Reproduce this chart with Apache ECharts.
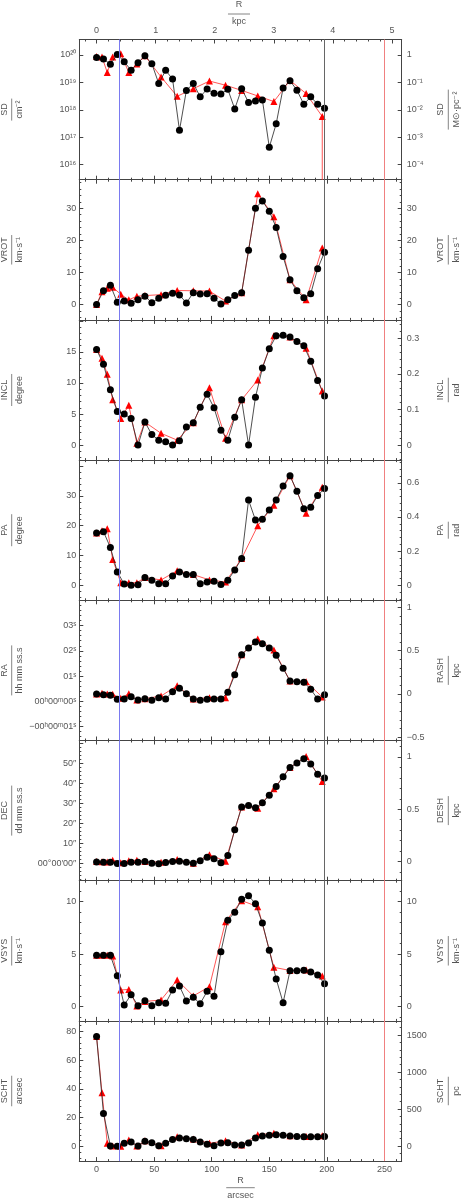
<!DOCTYPE html>
<html><head><meta charset="utf-8">
<script src="https://cdn.jsdelivr.net/npm/echarts@6/dist/echarts.min.js"></script>
<style>html,body{margin:0;padding:0;background:#fff}#c{width:463px;height:1199px}</style>
</head><body><div id="c"></div>
<script>
// ---------------- data ----------------
const R_BLACK = [0,6,12,18,24,30,36,42,48,54,60,66,72,78,84,90,96,102,108,114,120,126,132,138,144,150,156,162,168,174,180,186,192,198];
const R_RED = [0,4.7,9.3,14,21,28,35,42,56,70,84,98,112,126,140,154,168,182,196];

const SD_BLACK = [8.1e19,7.2e19,4.6e19,1.05e20,5.7e19,2.75e19,5.2e19,9.3e19,4.8e19,9.1e18,2.75e19,1.32e19,1.78e17,5.1e18,9.1e18,3.0e18,5.7e18,4.0e18,3.8e18,5.6e18,1.07e18,5.9e18,1.86e18,2.1e18,2.3e18,4.3e16,3.1e17,6.2e18,1.15e19,5.2e18,1.58e18,3.0e18,1.58e18,1.15e18];
const SD_RED = [8.9e19,8.5e19,2.3e19,8.5e19,1.12e20,2.3e19,4.7e19,9.3e19,1.58e19,3.1e18,5.9e18,1.12e19,7.9e18,5.1e18,3.2e18,2.0e18,1.18e19,3.9e18,5.7e17];
const SD_RED_DROP = 1e10; // last red ring falls to ~zero

const VROT_BLACK = [0,4.3,6.0,0.7,1.1,0.4,1.5,2.6,0.6,2.0,2.9,3.5,3.0,0.5,3.7,3.3,3.4,2.0,0.2,1.5,2.8,3.7,16.9,30.0,32.3,29.1,24.0,15.0,7.7,4.3,2.1,3.4,11.2,16.3];
const VROT_RED = [0,4.0,5.1,5.4,3.2,1.5,2.6,2.8,3.1,4.4,4.3,4.2,1.1,3.7,34.5,27.4,7.7,1.5,17.6];

const INCL_BLACK = [15.4,13.0,8.9,5.4,5.0,4.3,0,3.7,1.7,0.8,0.55,0,0.7,2.9,3.6,6.1,8.2,6.0,2.4,0.8,4.5,7.3,0,7.7,12.4,15.5,17.6,17.7,17.4,16.7,16.0,13.5,10.4,7.9];
const INCL_RED = [15.4,14.0,11.4,7.3,4.3,6.4,0.3,3.7,1.9,0.8,3.6,9.25,1.1,7.3,10.5,17.6,17.4,15.6,8.7];

const PA_BLACK = [17.55,18.0,12.7,4.5,0.4,0,0.2,2.6,1.7,0.55,0.55,3.1,4.5,3.6,3.6,0.55,1.1,1.4,0.3,1.7,5.1,9.0,28.6,21.9,22.2,25.3,28.6,33.3,36.8,31.6,25.7,26.2,30.1,32.5];
const PA_RED = [17.55,18.3,19.0,8.7,0.9,0.9,0.9,2.6,1.8,4.9,3.6,1.8,1.1,9.0,20.0,26.9,36.8,24.15,32.9];

const RASH_BLACK = [0,-0.008,-0.015,-0.06,-0.058,-0.031,-0.069,-0.054,-0.073,-0.042,-0.058,0.027,0.065,0.004,-0.058,-0.073,-0.06,-0.058,-0.058,0.019,0.223,0.454,0.531,0.60,0.58,0.531,0.446,0.296,0.15,0.142,0.135,0.054,-0.058,-0.008];
const RASH_RED = [0,0.008,0,-0.004,-0.05,0.004,-0.069,-0.054,-0.023,0.096,-0.058,-0.042,-0.042,0.454,0.634,0.507,0.15,0.142,-0.035];

const DESH_BLACK = [-0.004,-0.007,-0.007,-0.02,-0.02,-0.007,-0.007,0,-0.016,-0.023,-0.01,0,0.003,-0.007,-0.016,0.006,0.041,0.025,-0.013,0.057,0.304,0.522,0.535,0.513,0.561,0.634,0.718,0.81,0.90,0.942,0.984,0.932,0.836,0.80];
const DESH_RED = [0,-0.002,-0.005,0.0125,-0.013,0.006,0.0125,0,-0.007,0.019,-0.016,0.064,0.003,0.522,0.509,0.695,0.90,1.006,0.766];

const VSYS_BLACK = [4.9,4.9,4.9,2.95,0.16,1.15,0.1,0.57,0.1,0.38,0.32,1.59,1.97,0.54,0.89,0.29,1.46,0.99,5.24,8.23,8.99,10.23,10.57,9.81,7.97,5.37,2.64,0.38,3.43,3.43,3.46,3.30,3.02,2.19];
const VSYS_RED = [4.9,4.9,4.9,4.84,1.59,1.65,0.07,0.5,0.64,2.54,1.02,1.91,8.1,10.1,9.53,3.75,3.45,3.49,2.92];

const SCHT_BLACK = [76.3,22.9,0.2,0,2.1,3.0,0.2,3.5,2.5,0.4,2.1,4.8,5.8,5.3,4.8,3.0,1.4,0.4,2.3,2.5,0.9,0.9,2.3,5.8,7.2,7.6,8.1,7.6,7.2,6.9,6.7,6.7,6.7,6.9];
const SCHT_RED = [76.3,37.3,2.1,0.2,0,4.4,0.2,3.8,0.4,6.7,5.1,2.1,3.8,0.9,8.1,9.0,7.4,6.9,7.4];

const MARK_R = [20, 198, 250];           // vertical reference radii (arcsec)
const RA_TICKS = [-0.1, 0, 0.1, 0.2, 0.3];
const RA_TICK_LABELS = ['−00ʰ00ᵐ01ˢ','00ʰ00ᵐ00ˢ','01ˢ','02ˢ','03ˢ'];
const DEC_TICKS = [0,10,20,30,40,50];
const DEC_TICK_LABELS = ['00°00′00″','10″','20″','30″','40″','50″'];

// ---------------- layout / style ----------------
const FONT = 'Liberation Sans';
const TXT = '#555', FRAME = '#444';
const L = 79.3, W = 322.4, T0 = 39.5, H = 140.2;
const XMIN = -15, XMAX = 265, ARCSEC_PER_KPC = 51.3;

const SUPMAP = {'-':'⁻','0':'⁰','1':'¹','2':'²','3':'³','4':'⁴','5':'⁵','6':'⁶','7':'⁷','8':'⁸','9':'⁹'};
const sup = s => String(s).split('').map(c => SUPMAP[c] || c).join('');
const num = v => String(+(+v).toFixed(6)).replace('-', '−');
const numBelow = lim => v => (v > lim ? '' : num(v));
const pickLabel = (ticks, labels) => v => {
  let k = -1;
  ticks.forEach((t, i) => { if (Math.abs(t - v) < 1e-6) k = i; });
  return k < 0 ? '' : labels[k];
};
const logLeft = v => '10' + sup(Math.round(Math.log10(v)));
const logRight = v => { const e = Math.round(Math.log10(v)); return e === 0 ? '1' : '10' + sup(e); };
const D2R = Math.PI / 180;

const panels = [
  {nl:'SD', ul:'cm⁻²', nr:'SD', ur:'M⊙·pc⁻²', black:SD_BLACK, red:SD_RED, onRight:false,
   yl:{type:'log', min:Math.pow(10,15.449), max:Math.pow(10,20.566), fmt:logLeft},
   yr:{type:'log', min:Math.pow(10,-4.551), max:Math.pow(10,0.566), fmt:logRight}},
  {nl:'VROT', ul:'km·s⁻¹', nr:'VROT', ur:'km·s⁻¹', black:VROT_BLACK, red:VROT_RED, onRight:false,
   yl:{min:-4.77, max:38.91, split:5, fmt:num}, yr:{min:-4.77, max:38.91, split:5, fmt:num}},
  {nl:'INCL', ul:'degree', nr:'INCL', ur:'rad', black:INCL_BLACK, red:INCL_RED, onRight:false,
   yl:{min:-2.415, max:20.16, split:5, fmt:numBelow(19)}, yr:{min:-2.415*D2R, max:20.16*D2R, split:5, fmt:num}},
  {nl:'PA', ul:'degree', nr:'PA', ur:'rad', black:PA_BLACK, red:PA_RED, onRight:false,
   yl:{min:-5.03, max:42.01, split:5, fmt:numBelow(35)}, yr:{min:-5.03*D2R, max:42.01*D2R, split:5, fmt:num}},
  {nl:'RA', ul:'hh mm ss.s', nr:'RASH', ur:'kpc', black:RASH_BLACK, red:RASH_RED, onRight:true,
   yl:{min:-0.1552, max:0.4, split:5, fmt:pickLabel(RA_TICKS, RA_TICK_LABELS)}, yr:{min:-0.5363, max:1.0807, split:3, fmt:num}},
  {nl:'DEC', ul:'dd mm ss.s', nr:'DESH', ur:'kpc', black:DESH_BLACK, red:DESH_RED, onRight:true,
   yl:{min:-8.7, max:61.4, split:5, fmt:pickLabel(DEC_TICKS, DEC_TICK_LABELS)}, yr:{min:-0.1842, max:1.158, split:3, fmt:num}},
  {nl:'VSYS', ul:'km·s⁻¹', nr:'VSYS', ur:'km·s⁻¹', black:VSYS_BLACK, red:VSYS_RED, onRight:false,
   yl:{min:-1.352, max:12.0, split:3, fmt:num}, yr:{min:-1.352, max:12.0, split:3, fmt:num}},
  {nl:'SCHT', ul:'arcsec', nr:'SCHT', ur:'pc', black:SCHT_BLACK, red:SCHT_RED, onRight:false,
   yl:{min:-10.3, max:87.24, split:5, fmt:num}, yr:{min:-203, max:1691, split:4, fmt:num}}
];

function axisBase(extra) {
  const a = {
    axisLine: {show:true, onZero:false, lineStyle:{color:FRAME, width:1}},
    axisTick: {show:true, inside:true, length:4, lineStyle:{color:FRAME, width:1}},
    minorTick: {show:true, splitNumber:5, length:2, lineStyle:{color:FRAME, width:1}},
    splitLine: {show:false}, minorSplitLine: {show:false},
    axisLabel: {show:false, color:TXT, fontSize:9, fontFamily:FONT, showMinLabel:false, showMaxLabel:false, margin:4}
  };
  for (const k in extra) {
    if (k === 'axisLabel' || k === 'axisTick' || k === 'minorTick') Object.assign(a[k], extra[k]);
    else a[k] = extra[k];
  }
  return a;
}

const grids = [], xAxes = [], yAxes = [], series = [];
panels.forEach((p, i) => {
  grids.push({left:L, top:T0 + i*H, width:W, height:H, containLabel:false});
  xAxes.push(axisBase({gridIndex:i, type:'value', position:'bottom', min:XMIN, max:XMAX, splitNumber:5,
    axisLabel:{show:i === 7, formatter:num}}));
  if (i === 0) {
    xAxes.push(axisBase({gridIndex:i, type:'value', position:'top', min:XMIN/ARCSEC_PER_KPC, max:XMAX/ARCSEC_PER_KPC, splitNumber:5,
      axisLabel:{show:true, formatter:num}}));
  } else {
    xAxes.push(axisBase({gridIndex:i, type:'value', position:'top', min:XMIN, max:XMAX, splitNumber:5}));
  }
  const isLog = p.yl.type === 'log';
  yAxes.push(axisBase({gridIndex:i, type:isLog ? 'log' : 'value', logBase:10, position:'left', min:p.yl.min, max:p.yl.max,
    splitNumber:p.yl.split || 5, minorTick:{show:!isLog},
    axisLabel:{show:true, formatter:p.yl.fmt, margin:3}}));
  yAxes.push(axisBase({gridIndex:i, type:isLog ? 'log' : 'value', logBase:10, position:'right', min:p.yr.min, max:p.yr.max,
    splitNumber:p.yr.split || 5, minorTick:{show:!isLog},
    axisLabel:{show:true, formatter:p.yr.fmt, margin:5}}));

  const yi = p.onRight ? 2*i + 1 : 2*i;
  const redData = R_RED.map((r, k) => [r, p.red[k]]);
  if (i === 0) redData.push({value:[R_RED[R_RED.length - 1], SD_RED_DROP], symbol:'none'});
  series.push({
    type:'line', xAxisIndex:2*i, yAxisIndex:yi, data:redData, clip:true, silent:true, z:2,
    symbol:'triangle', symbolSize:7, itemStyle:{color:'#ff0000'},
    lineStyle:{color:'#ff2a2a', width:0.8},
    markLine:{silent:true, symbol:['none','none'], label:{show:false}, animation:false,
      data:[
        {xAxis:MARK_R[0], lineStyle:{color:'#7a7af0', width:1, type:'solid'}},
        {xAxis:MARK_R[1], lineStyle:{color:'#666666', width:1, type:'solid'}},
        {xAxis:MARK_R[2], lineStyle:{color:'#f08080', width:1, type:'solid'}}
      ]}
  });
  series.push({
    type:'line', xAxisIndex:2*i, yAxisIndex:yi, data:R_BLACK.map((r, k) => [r, p.black[k]]), clip:true, silent:true, z:3,
    symbol:'circle', symbolSize:7, itemStyle:{color:'#000'},
    lineStyle:{color:'#222', width:0.8}
  });
});

// ---------------- axis titles (fractions) ----------------
const mctx = document.createElement('canvas').getContext('2d');
mctx.font = '9px "' + FONT + '"';
const tw = t => mctx.measureText(t).width;
const tstyle = t => ({text:t, fontSize:9, fontFamily:FONT, fill:TXT, align:'center', verticalAlign:'middle'});
function fraction(cx, cy, top, bot, rotated, dTop, dBot, extra) {
  const len = Math.max(tw(top), tw(bot)) + (extra || 4);
  return {type:'group', x:cx, y:cy, rotation:rotated ? Math.PI/2 : 0, silent:true, children:[
    {type:'text', x:0, y:-dTop, style:tstyle(top)},
    {type:'line', shape:{x1:-len/2, y1:0, x2:len/2, y2:0}, style:{stroke:'#666', lineWidth:0.8}},
    {type:'text', x:0, y:dBot, style:tstyle(bot)}
  ]};
}
const graphics = [];
panels.forEach((p, i) => {
  const cy = T0 + i*H + H/2;
  graphics.push(fraction(11.7, cy, p.nl, p.ul, true, 7.5, 7.8));
  graphics.push(fraction(448.3, cy, p.nr, p.ur, true, 7.8, 8.0));
});
graphics.push(fraction(239, 14, 'R', 'kpc', false, 9.5, 7.3, 8));
graphics.push(fraction(240.5, 1187.7, 'R', 'arcsec', false, 7.4, 8.3, 2));

const chart = echarts.init(document.getElementById('c'), null, {renderer:'canvas'});
chart.setOption({
  animation:false,
  backgroundColor:'#fff',
  grid:grids, xAxis:xAxes, yAxis:yAxes, series:series,
  graphic:graphics
});
</script></body></html>
